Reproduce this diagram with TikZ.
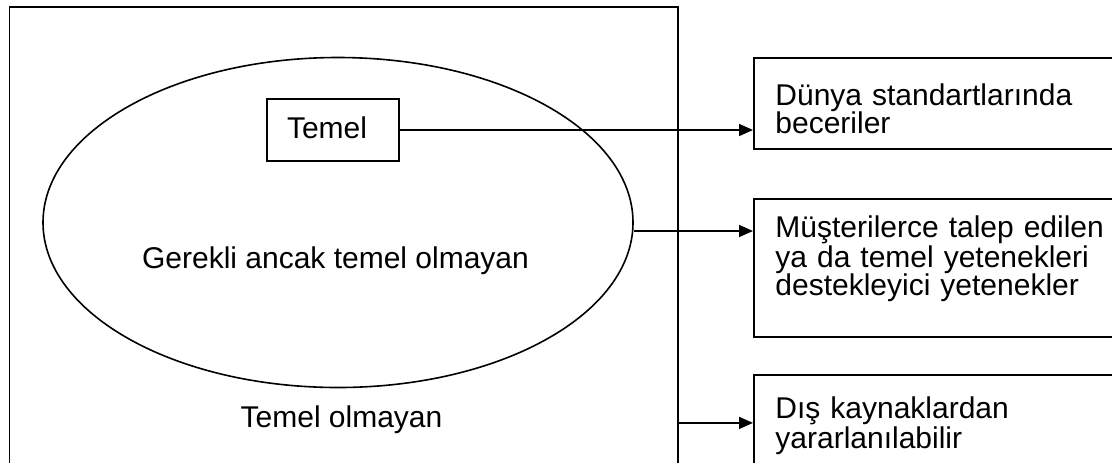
\documentclass[tikz,border=0pt]{standalone}
\usepackage{fontspec}
\setmainfont{Liberation Sans}
\usetikzlibrary{shapes.geometric,arrows.meta}
\begin{document}
\begin{tikzpicture}[x=0.5pt,y=-0.5pt,
  every node/.style={font=\fontsize{15}{14}\selectfont,inner sep=0pt},
  frame/.style={draw,line width=0.9pt,rectangle,anchor=north west},
  arr/.style={-{Triangle[length=7pt,width=6pt]},line width=0.8pt},
  boxtext/.style={anchor=base west,text width=175pt,align=left,
    execute at begin node={\baselineskip=14pt}}]
\useasboundingbox (0,0) rectangle (1112,462);
\clip (0,0) rectangle (1112,462);

\node[frame,minimum width=334.25pt,minimum height=240pt] (outer) at (8.5,6) {};
\node[draw,ellipse,line width=0.8pt,minimum width=295pt,minimum height=165pt] (ell) at (338,222.5) {};
\node[frame,anchor=center,minimum width=66pt,minimum height=31pt,text width=46pt,align=left,inner xsep=10pt,text height=11pt,text depth=3pt] (temel) at (333,130) {Temel};

\node[anchor=base] (gerekli) at (335.5,268) {Gerekli ancak temel olmayan};
\node[anchor=base] (temelolm) at (341.5,427) {Temel olmayan};

\node[frame,minimum width=200pt,minimum height=45.5pt] (box1) at (753,57) {};
\node[frame,minimum width=200pt,minimum height=69pt] (box2) at (753,198) {};
\node[frame,minimum width=200pt,minimum height=48pt] (box3) at (753,374) {};

\node[boxtext] (t1) at ([shift={(22,48)}]box1.north west) {Dünya standartlarında\\beceriler};
\node[boxtext] (t2) at ([shift={(22,39)}]box2.north west) {Müşterilerce talep edilen\\\makebox[162.5pt][s]{ya da temel yetenekleri}\\destekleyici yetenekler};
\node[boxtext] (t3) at ([shift={(22,44)}]box3.north west) {Dış kaynaklardan\\yararlanılabilir};

\coordinate (e2) at ([yshift=-4.25pt]ell.east);
\draw[arr] (temel.east) -- (temel.east -| box1.west);
\draw[arr] (e2) -- (e2 -| box2.west);
\draw[arr] (outer.east |- box3.west) -- (box3.west);
\end{tikzpicture}
\end{document}
